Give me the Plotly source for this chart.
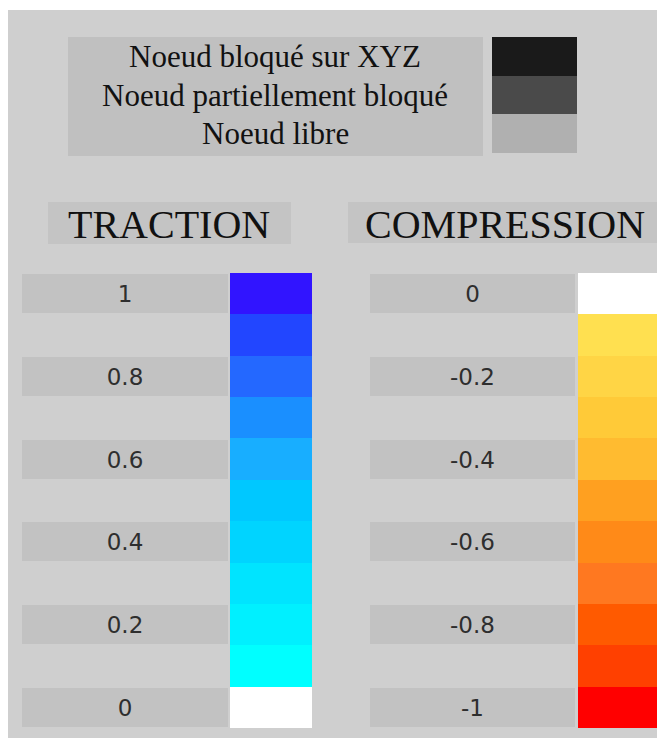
import plotly.graph_objects as go

# the page body adds an 8px margin, so the figure is drawn 8px in from the top-left
OFF = 8
W, H = 665 - OFF, 738 - OFF

# legend of node states
node_labels = ["Noeud bloqué sur XYZ", "Noeud partiellement bloqué", "Noeud libre"]
node_colors = ["#1a1a1a", "#4a4a4a", "#b0b0b0"]

# traction scale (top to bottom)
traction_levels = [1.0, 0.9, 0.8, 0.7, 0.6, 0.5, 0.4, 0.3, 0.2, 0.1, 0.0]
traction_colors = ["#3114ff", "#2246ff", "#2468ff", "#1a8fff", "#18aeff", "#00c8ff",
                   "#00d4ff", "#00e4ff", "#00f0ff", "#00ffff", "#ffffff"]
traction_ticks = [1.0, 0.8, 0.6, 0.4, 0.2, 0.0]
traction_ticktext = ["1", "0.8", "0.6", "0.4", "0.2", "0"]

# compression scale (top to bottom)
compression_levels = [0.0, -0.1, -0.2, -0.3, -0.4, -0.5, -0.6, -0.7, -0.8, -0.9, -1.0]
compression_colors = ["#ffffff", "#ffe050", "#ffd545", "#ffca38", "#ffbb30", "#ffa020",
                      "#ff8a18", "#ff7820", "#ff5a00", "#ff4000", "#ff0000"]
compression_ticks = [0.0, -0.2, -0.4, -0.6, -0.8, -1.0]
compression_ticktext = ["0", "-0.2", "-0.4", "-0.6", "-0.8", "-1"]


def px(x):
    # page pixel -> paper fraction
    return (x - OFF) / W


def py(y):
    return 1 - (y - OFF) / H


PANEL = "#cfcfcf"
BOX = "#c2c2c2"
label_font = dict(family="DejaVu Sans", size=23, color="#2e2e2e")
serif = "Liberation Serif, Times New Roman, serif"

fig = go.Figure()

# colour bars
fig.add_trace(go.Bar(y=traction_levels, x=[1] * len(traction_levels), orientation="h",
                     width=0.1, marker=dict(color=traction_colors, line_width=0),
                     xaxis="x", yaxis="y", hoverinfo="skip"))
fig.add_trace(go.Bar(y=traction_ticks, x=[1] * len(traction_ticks), orientation="h",
                     width=0.094, marker=dict(color=BOX, line_width=0),
                     text=traction_ticktext, textposition="inside", insidetextanchor="middle",
                     textfont=label_font, xaxis="x2", yaxis="y2", hoverinfo="skip"))
fig.add_trace(go.Bar(y=compression_levels, x=[1] * len(compression_levels), orientation="h",
                     width=0.1, marker=dict(color=compression_colors, line_width=0),
                     xaxis="x3", yaxis="y3", hoverinfo="skip"))
fig.add_trace(go.Bar(y=compression_ticks, x=[1] * len(compression_ticks), orientation="h",
                     width=0.094, marker=dict(color=BOX, line_width=0),
                     text=compression_ticktext, textposition="inside", insidetextanchor="middle",
                     textfont=label_font, xaxis="x4", yaxis="y4", hoverinfo="skip"))
# node legend swatches
fig.add_trace(go.Bar(y=node_labels, x=[1] * len(node_labels), orientation="h",
                     width=1, marker=dict(color=node_colors, line_width=0),
                     xaxis="x5", yaxis="y5", hoverinfo="skip"))

hidden = dict(visible=False, fixedrange=True)
bar_y = [py(728), py(273)]
fig.update_layout(
    width=W, height=H, margin=dict(l=0, r=0, t=0, b=0),
    paper_bgcolor="white", plot_bgcolor="rgba(0,0,0,0)",
    showlegend=False, bargap=0,
    xaxis=dict(domain=[px(230), px(312)], range=[0, 1], **hidden),
    yaxis=dict(domain=bar_y, range=[-0.05, 1.05], **hidden),
    xaxis2=dict(domain=[px(22), px(228)], range=[0, 1], anchor="y2", **hidden),
    yaxis2=dict(domain=bar_y, range=[-0.05, 1.05], anchor="x2", **hidden),
    xaxis3=dict(domain=[px(578), px(661)], range=[0, 1], anchor="y3", **hidden),
    yaxis3=dict(domain=bar_y, range=[-1.05, 0.05], anchor="x3", **hidden),
    xaxis4=dict(domain=[px(370), px(575)], range=[0, 1], anchor="y4", **hidden),
    yaxis4=dict(domain=bar_y, range=[-1.05, 0.05], anchor="x4", **hidden),
    xaxis5=dict(domain=[px(492), px(577)], range=[0, 1], anchor="y5", **hidden),
    yaxis5=dict(domain=[py(153), py(37)], autorange="reversed", anchor="x5",
                type="category", **hidden),
)

# background panel and text boxes
shapes = [
    dict(x0=px(8), x1=px(665), y0=py(738), y1=py(10), fillcolor=PANEL),
    dict(x0=px(68), x1=px(483), y0=py(156), y1=py(37), fillcolor="#c0c0c0"),
    dict(x0=px(48), x1=px(291), y0=py(244), y1=py(202), fillcolor="#c4c4c4"),
    dict(x0=px(348), x1=px(663), y0=py(243), y1=py(202), fillcolor="#c4c4c4"),
]
for s in shapes:
    fig.add_shape(type="rect", xref="paper", yref="paper", line_width=0, layer="below", **s)

for lab in node_labels:
    fig.add_annotation(x=px(275), y=lab, xref="paper", yref="y5", text=lab, showarrow=False,
                       xanchor="center", yanchor="middle",
                       font=dict(family=serif, size=31, color="#111111"))

fig.add_annotation(x=px(169), y=py(224), xref="paper", yref="paper", text="TRACTION",
                   showarrow=False, xanchor="center", yanchor="middle",
                   font=dict(family=serif, size=40, color="#111111"))
fig.add_annotation(x=px(505), y=py(224), xref="paper", yref="paper", text="COMPRESSION",
                   showarrow=False, xanchor="center", yanchor="middle",
                   font=dict(family=serif, size=40, color="#111111"))

fig.write_html("out.html")
